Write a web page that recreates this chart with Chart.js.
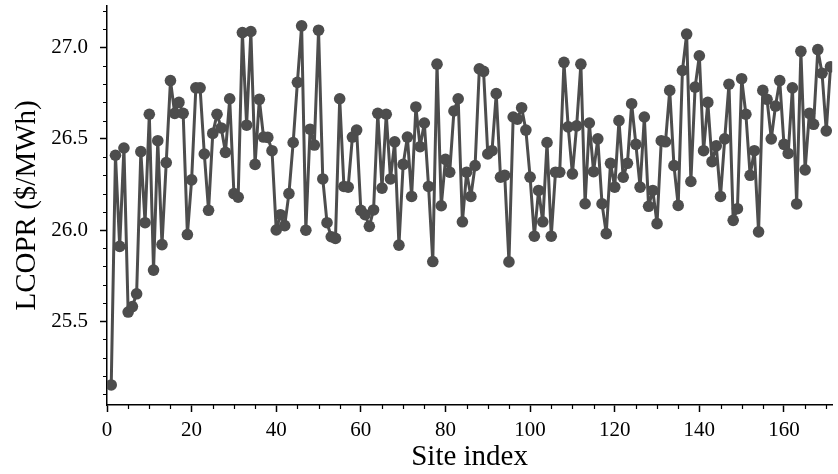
<!DOCTYPE html>
<html lang="en">
<head>
    <meta charset="UTF-8">
    <title>LCOPR by site</title>
    <script src="https://cdn.jsdelivr.net/npm/chart.js"></script>
    <style>
        body { margin: 0; background: #fff; }
    </style>
</head>
<body>
    <canvas id="grafico" width="838" height="474"></canvas>

    <script>
        // LCOPR ($/MWh) for each site, site 1 .. 171
        const lcopr = [
            25.15, 26.41, 25.91, 26.45, 25.55, 25.58, 25.65, 26.43, 26.04, 26.635,
            25.78, 26.49, 25.92, 26.37, 26.82, 26.64, 26.70, 26.64, 25.975, 26.275,
            26.78, 26.78, 26.417, 26.108, 26.53, 26.635, 26.56, 26.426, 26.72, 26.20,
            26.18, 27.083, 26.575, 27.089, 26.36, 26.717, 26.51, 26.508, 26.435, 26.00,
            26.084, 26.024, 26.20, 26.48, 26.81, 27.12, 25.999, 26.553, 26.466, 27.096,
            26.28, 26.04, 25.963, 25.954, 26.72, 26.239, 26.235, 26.51, 26.548, 26.108,
            26.084, 26.02, 26.11, 26.64, 26.23, 26.635, 26.28, 26.484, 25.917, 26.36,
            26.51, 26.184, 26.675, 26.457, 26.587, 26.239, 25.827, 26.91, 26.133, 26.388,
            26.317, 26.653, 26.72, 26.045, 26.317, 26.184, 26.353, 26.884, 26.87, 26.417,
            26.435, 26.748, 26.29, 26.30, 25.825, 26.62, 26.608, 26.671, 26.548, 26.29,
            25.966, 26.217, 26.045, 26.48, 25.966, 26.317, 26.317, 26.92, 26.566, 26.308,
            26.571, 26.91, 26.144, 26.587, 26.32, 26.50, 26.144, 25.98, 26.366, 26.235,
            26.60, 26.29, 26.366, 26.693, 26.47, 26.235, 26.62, 26.13, 26.217, 26.035,
            26.49, 26.484, 26.766, 26.353, 26.135, 26.875, 27.075, 26.266, 26.784, 26.956,
            26.435, 26.70, 26.375, 26.462, 26.184, 26.50, 26.80, 26.053, 26.117, 26.83,
            26.635, 26.30, 26.435, 25.99, 26.766, 26.717, 26.50, 26.68, 26.82, 26.47,
            26.42, 26.78, 26.143, 26.98, 26.33, 26.64, 26.58, 26.99, 26.86, 26.544,
            26.896
        ];
        const siteIndex = lcopr.map((_, i) => i + 1);

        const xTicks = [0, 20, 40, 60, 80, 100, 120, 140, 160];
        const yTicks = [25.5, 26.0, 26.5, 27.0];

        const gris = '#4d4d4d';
        const fuente = 'Liberation Serif';

        // matplotlib-like minor ticks
        const ticksMenores = {
            id: 'ticksMenores',
            afterDraw(chart) {
                const { ctx, scales: { x, y } } = chart;
                ctx.save();
                ctx.strokeStyle = '#000';
                ctx.lineWidth = 1.2;
                ctx.beginPath();
                for (let v = 5; v <= x.max; v += 5) {
                    if (v % 20 === 0) continue;
                    const px = Math.round(x.getPixelForValue(v)) + 0.5;
                    ctx.moveTo(px, y.bottom);
                    ctx.lineTo(px, y.bottom + 4);
                }
                for (let k = 251; k <= 272; k++) {
                    if (k % 5 === 0) continue;
                    const py = Math.round(y.getPixelForValue(k / 10)) + 0.5;
                    ctx.moveTo(x.left, py);
                    ctx.lineTo(x.left - 4, py);
                }
                ctx.stroke();
                ctx.restore();
            }
        };

        new Chart(document.getElementById('grafico'), {
            type: 'line',
            data: {
                datasets: [{
                    data: siteIndex.map((s, i) => ({ x: s, y: lcopr[i] })),
                    borderColor: gris,
                    borderWidth: 3,
                    borderJoinStyle: 'round',
                    backgroundColor: gris,
                    pointBackgroundColor: gris,
                    pointBorderWidth: 0,
                    pointRadius: 5.8,
                    tension: 0
                }]
            },
            options: {
                responsive: false,
                animation: false,
                devicePixelRatio: 1,
                layout: { padding: { top: 5, right: 0, left: 0, bottom: 0 } },
                plugins: { legend: { display: false }, tooltip: { enabled: false } },
                scales: {
                    x: {
                        type: 'linear',
                        min: 0,
                        max: 171.4,
                        afterFit: (s) => { s.height = 69; s.paddingLeft = 0; s.paddingRight = 0; },
                        afterBuildTicks: (s) => { s.ticks = xTicks.map(v => ({ value: v })); },
                        grid: { drawOnChartArea: false, tickLength: 7, tickColor: '#000', tickWidth: 1.5 },
                        border: { display: true, color: '#000', width: 1.5 },
                        ticks: {
                            color: '#000',
                            font: { family: fuente, size: 21 },
                            padding: 6,
                            maxRotation: 0,
                            callback: (v) => v
                        },
                        title: {
                            display: true,
                            text: 'Site index',
                            color: '#000',
                            font: { family: fuente, size: 29, lineHeight: 1 },
                            padding: { top: 0, bottom: 2 }
                        }
                    },
                    y: {
                        min: 25.04,
                        max: 27.23,
                        afterFit: (s) => { s.width = 107; s.paddingTop = 0; s.paddingBottom = 0; },
                        afterBuildTicks: (s) => { s.ticks = yTicks.map(v => ({ value: v })); },
                        grid: { drawOnChartArea: false, tickLength: 7, tickColor: '#000', tickWidth: 1.5 },
                        border: { display: true, color: '#000', width: 1.5 },
                        ticks: {
                            color: '#000',
                            font: { family: fuente, size: 21 },
                            padding: 12,
                            callback: (v) => v.toFixed(1)
                        },
                        title: {
                            display: true,
                            text: 'LCOPR ($/MWh)',
                            color: '#000',
                            font: { family: fuente, size: 29, lineHeight: 1 },
                            padding: { top: 13, bottom: 0 }
                        }
                    }
                }
            },
            plugins: [ticksMenores]
        });
    </script>
</body>
</html>
